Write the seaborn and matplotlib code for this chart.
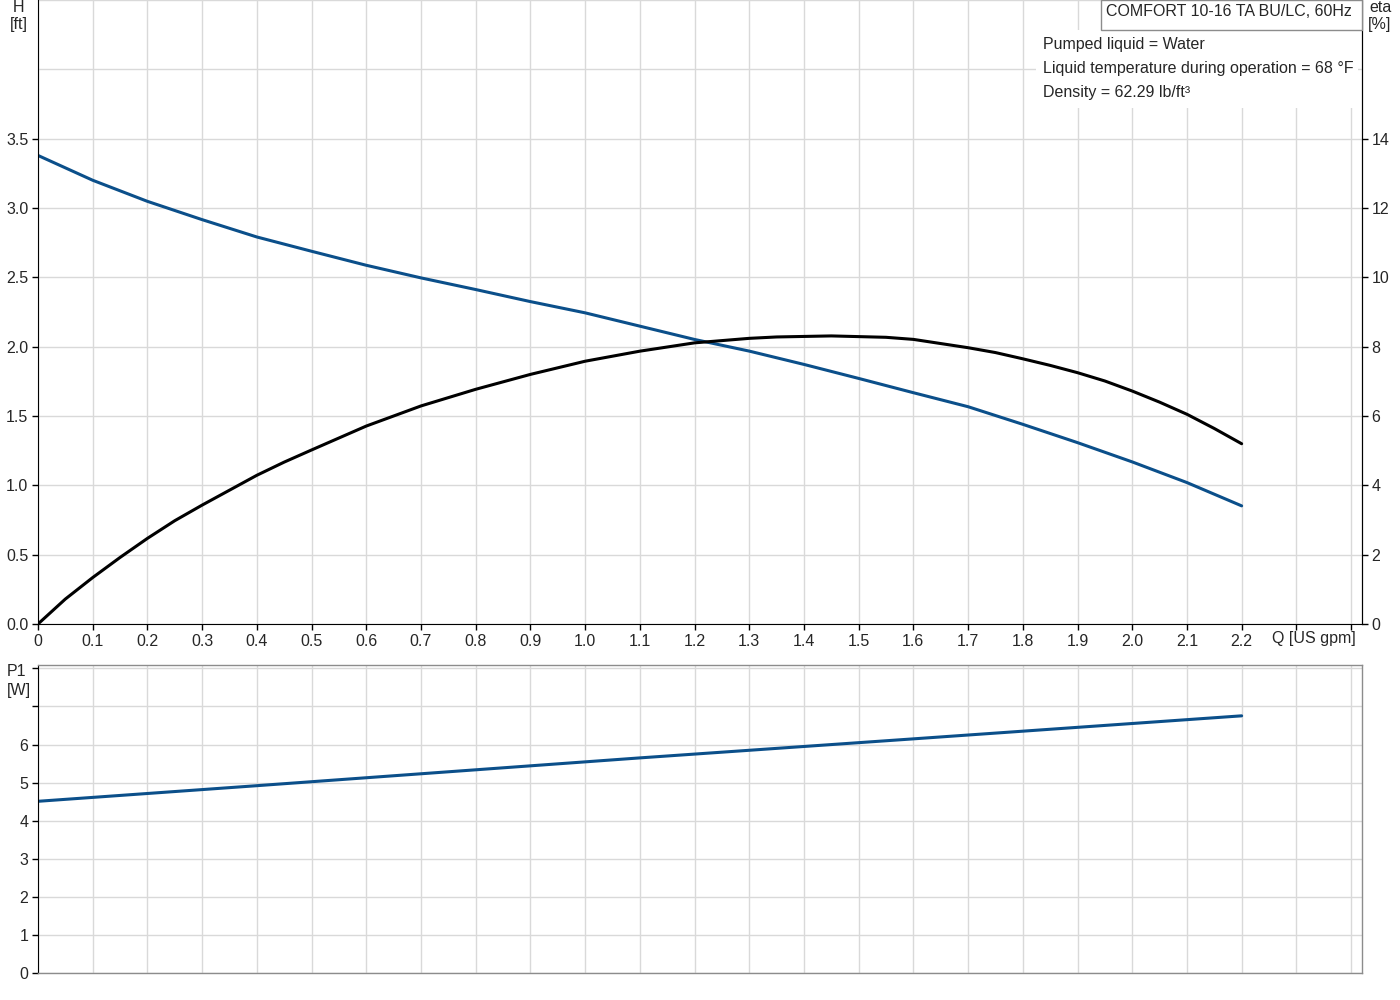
import seaborn as sns
import matplotlib.pyplot as plt
from matplotlib.patches import Rectangle

# Valores
q = [0.0, 0.1, 0.2, 0.3, 0.4, 0.5, 0.6, 0.7, 0.8, 0.9, 1.0, 1.1,
     1.2, 1.3, 1.4, 1.5, 1.6, 1.7, 1.8, 1.9, 2.0, 2.1, 2.2]
head_ft = [3.379, 3.200, 3.048, 2.916, 2.791, 2.688, 2.587, 2.496, 2.412,
           2.325, 2.244, 2.148, 2.052, 1.968, 1.872, 1.771, 1.668, 1.567,
           1.440, 1.308, 1.169, 1.020, 0.852]

q_eta = [0.0, 0.05, 0.1, 0.15, 0.2, 0.25, 0.3, 0.35, 0.4, 0.45, 0.5, 0.6,
         0.7, 0.8, 0.9, 1.0, 1.1, 1.2, 1.3, 1.35, 1.45, 1.55, 1.6, 1.7,
         1.75, 1.8, 1.85, 1.9, 1.95, 2.0, 2.05, 2.1, 2.15, 2.2]
eta_pct = [0.0, 0.72, 1.34, 1.92, 2.47, 2.98, 3.43, 3.86, 4.29, 4.67, 5.02,
           5.71, 6.29, 6.77, 7.20, 7.58, 7.87, 8.11, 8.24, 8.28, 8.31, 8.27,
           8.21, 7.97, 7.83, 7.65, 7.46, 7.25, 7.01, 6.72, 6.40, 6.05, 5.64,
           5.20]

q_p1 = [0.0, 0.4, 1.1, 1.6, 2.2]
p1_w = [4.51, 4.92, 5.65, 6.15, 6.755]

x_ticks = [i / 10 for i in range(25)]
x_labels = ["0"] + [f"{t:.1f}" for t in x_ticks[1:23]] + ["", ""]
h_ticks = [i * 0.5 for i in range(10)]
h_labels = [f"{t:.1f}" for t in h_ticks[:8]] + ["", ""]
eta_ticks = [0, 2, 4, 6, 8, 10, 12, 14]
p1_ticks = [0, 1, 2, 3, 4, 5, 6, 7, 8]
p1_labels = ["0", "1", "2", "3", "4", "5", "6", "", ""]

info_lines = [
    "Pumped liquid = Water",
    "Liquid temperature during operation = 68 °F",
    "Density = 62.29 lb/ft³",
]
title_txt = "COMFORT 10-16 TA BU/LC, 60Hz"

blue = "#0b4f8a"
grid_col = "#d9d9d9"
fs = 11.5

sns.set_style("whitegrid", {"grid.color": grid_col, "axes.edgecolor": "black"})
plt.rcParams["font.family"] = ["Liberation Sans", "DejaVu Sans"]
plt.rcParams["font.size"] = fs

W, H = 1400, 1000
fig = plt.figure(figsize=(14, 10), dpi=100)

# Eixo superior: altura e rendimento
ax = fig.add_axes([38 / W, 376 / H, 1324 / W, 624 / H])
ax2 = ax.twinx()

sns.lineplot(x=q, y=head_ft, ax=ax, color=blue, linewidth=2.2,
             solid_joinstyle="round")
sns.lineplot(x=q_eta, y=eta_pct, ax=ax2, color="black", linewidth=2.2,
             solid_joinstyle="round")

ax.set_xlim(0, 2.42)
ax.set_ylim(0, 4.5)
ax2.set_ylim(0, 18)
ax.set_xticks(x_ticks)
ax.set_xticklabels(x_labels)
ax.set_yticks(h_ticks)
ax.set_yticklabels(h_labels)
ax2.set_yticks(eta_ticks)
ax2.set_yticklabels([str(t) for t in eta_ticks])
ax2.grid(False)
ax.grid(True, color=grid_col, linewidth=1)
ax.tick_params(axis="both", left=True, bottom=True, length=4, width=1,
               direction="out", color="black", pad=3, labelsize=fs)
ax2.tick_params(axis="y", right=True, length=4, width=1, direction="out",
                color="black", pad=3, labelsize=fs)
for t in ax.yaxis.get_major_ticks()[8:]:
    t.tick1line.set_visible(False)
ax.spines["top"].set_visible(False)
ax2.spines["top"].set_visible(False)
for side in ["left", "bottom", "right"]:
    ax.spines[side].set_color("black")
    ax2.spines[side].set_color("black")
ax2.spines["left"].set_visible(False)
ax2.spines["bottom"].set_visible(False)

# Eixo inferior: potência
ax_p = fig.add_axes([38 / W, 27 / H, 1324 / W, 308 / H])
sns.lineplot(x=q_p1, y=p1_w, ax=ax_p, color=blue, linewidth=2.2)
ax_p.set_xlim(0, 2.42)
ax_p.set_ylim(0, 8.09)
ax_p.set_xticks(x_ticks)
ax_p.set_yticks(p1_ticks)
ax_p.set_yticklabels(p1_labels)
ax_p.grid(True, color=grid_col, linewidth=1)
ax_p.tick_params(axis="x", length=0, labelbottom=False)
ax_p.tick_params(axis="y", left=True, length=4, width=1, direction="out",
                 color="black", pad=3, labelsize=fs)
for side in ["top", "right", "bottom"]:
    ax_p.spines[side].set_color("#8c8c8c")
    ax_p.spines[side].set_linewidth(1)
ax_p.spines["left"].set_color("black")

# Textos dos eixos
fig.text(19 / W, 1 - 8 / H, "H", ha="center", va="center")
fig.text(19 / W, 1 - 25 / H, "[ft]", ha="center", va="center")
fig.text(1380 / W, 1 - 8 / H, "eta", ha="center", va="center")
fig.text(1380 / W, 1 - 25 / H, "[%]", ha="center", va="center")
fig.text(17 / W, 1 - 672 / H, "P1", ha="center", va="center")
fig.text(19 / W, 1 - 690 / H, "[W]", ha="center", va="center")
fig.text(1314 / W, 1 - 639 / H, "Q [US gpm]", ha="center", va="center")

# Caixa de informações
fig.add_artist(Rectangle((1036 / W, 1 - 108 / H), 322 / W, 78 / H,
                         transform=fig.transFigure, facecolor="white",
                         edgecolor="none", zorder=2))
fig.add_artist(Rectangle((1101 / W, 1 - 30 / H), 261 / W, 30 / H,
                         transform=fig.transFigure, facecolor="white",
                         edgecolor="#8c8c8c", linewidth=1, zorder=2))
fig.text(1229 / W, 1 - 12 / H, title_txt, ha="center", va="center", zorder=3)
for i, line in enumerate(info_lines):
    fig.text(1043 / W, 1 - (44 + 24 * i) / H, line,
             ha="left", va="center", zorder=3)

fig.savefig("out.png", dpi=100)
